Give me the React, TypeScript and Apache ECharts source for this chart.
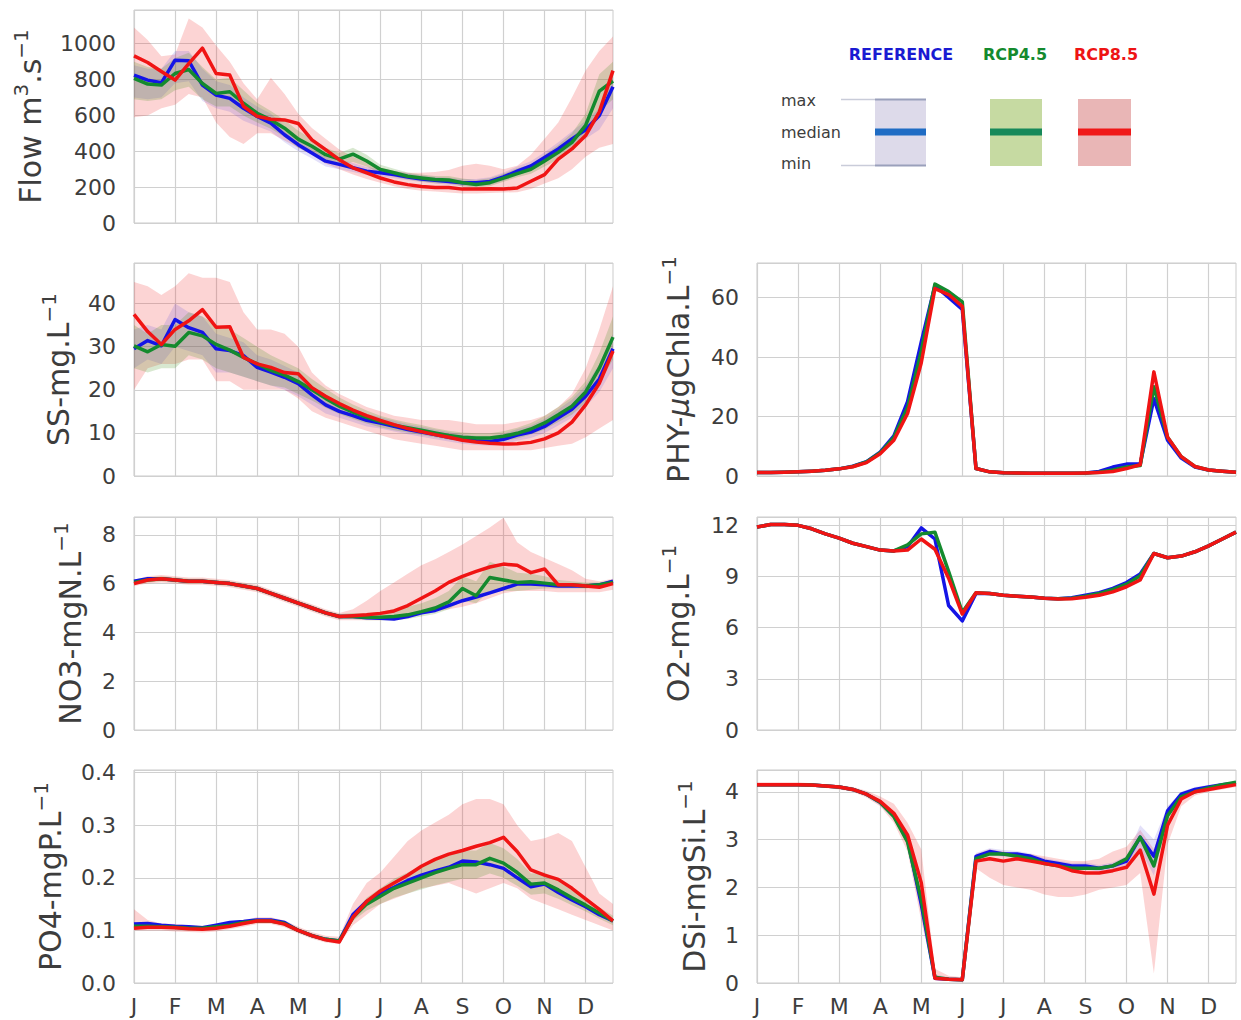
import React, { useEffect, useRef } from 'react';
import * as echarts from 'echarts';

// ---------- axis categories (3 dekads per month) ----------
const months = ['J', 'F', 'M', 'A', 'M', 'J', 'J', 'A', 'S', 'O', 'N', 'D'];
const dekads: string[] = [];
months.forEach((m, i) => [1, 2, 3].forEach((d) => dekads.push(`${m}|${i}|${d}`)));

// ---------- Flow m3/s ----------
const flowRef = [824, 797, 782, 908, 905, 769, 713, 695, 640, 594, 557, 492, 437, 391, 345, 327, 308, 289, 280, 270, 257, 246, 238, 232, 225, 224, 232, 257, 289, 318, 365, 413, 469, 520, 600, 760];
const flowR45 = [806, 775, 769, 834, 856, 778, 723, 732, 668, 612, 575, 529, 468, 428, 381, 356, 384, 346, 299, 280, 261, 251, 242, 240, 225, 215, 225, 250, 275, 300, 346, 394, 450, 545, 735, 792];
const flowR85 = [932, 895, 845, 797, 889, 975, 834, 825, 651, 595, 579, 575, 555, 464, 409, 353, 308, 280, 251, 229, 214, 204, 198, 198, 189, 189, 191, 189, 195, 233, 270, 356, 413, 488, 620, 850];
const flowRefLo = [700, 690, 700, 780, 790, 680, 640, 620, 570, 540, 510, 450, 400, 360, 315, 300, 285, 268, 260, 250, 238, 228, 220, 214, 205, 205, 212, 235, 265, 292, 335, 380, 430, 470, 520, 640];
const flowRefHi = [880, 860, 860, 960, 960, 860, 790, 770, 700, 650, 610, 540, 480, 425, 380, 355, 335, 312, 300, 290, 278, 266, 258, 252, 245, 245, 255, 282, 315, 345, 395, 450, 510, 570, 640, 860];
const flowR45Lo = [690, 680, 690, 740, 760, 690, 650, 650, 600, 560, 525, 480, 420, 385, 345, 325, 340, 315, 275, 258, 242, 232, 222, 220, 205, 198, 205, 230, 255, 275, 315, 355, 405, 480, 620, 690];
const flowR45Hi = [900, 870, 860, 920, 950, 870, 800, 810, 740, 670, 625, 575, 515, 470, 420, 390, 420, 380, 325, 302, 282, 270, 262, 262, 248, 240, 250, 275, 305, 325, 380, 435, 500, 610, 830, 900];
const flowR85Lo = [590, 600, 640, 660, 720, 700, 560, 480, 440, 500, 500, 460, 420, 380, 330, 300, 270, 245, 225, 205, 190, 180, 175, 170, 165, 165, 168, 170, 172, 190, 220, 250, 300, 370, 420, 440];
const flowR85Hi = [1090, 1020, 930, 940, 1140, 1090, 990, 900, 780, 690, 810, 720, 610, 530, 470, 410, 370, 340, 310, 290, 280, 280, 285, 295, 320, 330, 320, 300, 320, 380, 470, 560, 700, 850, 960, 1040];

// ---------- SS mg/L ----------
const ssRef = [29.5, 31.4, 30.2, 36.3, 34.4, 33.3, 29.5, 29.1, 27.9, 25.2, 24.1, 22.9, 21.4, 18.8, 16.5, 15.0, 14.0, 12.9, 12.3, 11.5, 10.8, 10.2, 9.6, 9.0, 8.5, 8.2, 8.0, 8.5, 9.5, 10.2, 11.5, 13.5, 15.5, 18.5, 22.5, 29.5];
const ssR45 = [30.2, 28.8, 30.5, 30.1, 33.3, 32.5, 30.5, 29.2, 27.5, 26.0, 24.5, 23.4, 21.9, 20.0, 18.0, 16.2, 14.8, 13.6, 12.6, 11.8, 11.2, 10.6, 10.0, 9.4, 9.0, 8.8, 8.8, 9.2, 9.9, 10.9, 12.3, 14.2, 16.2, 19.5, 25.0, 32.2];
const ssR85 = [37.5, 33.5, 30.5, 34.0, 36.0, 38.6, 34.5, 34.6, 27.5, 26.0, 25.2, 24.0, 23.7, 20.5, 18.5, 16.8, 15.3, 14.0, 12.9, 11.9, 11.0, 10.3, 9.6, 9.0, 8.3, 7.9, 7.6, 7.4, 7.5, 7.8, 8.6, 10.0, 12.5, 16.5, 21.5, 29.0];
const ssRefLo = [25, 27, 26, 30, 29, 28, 24, 24, 23, 22, 21, 20, 18.5, 16.5, 14.5, 13.5, 12.5, 11.5, 11, 10.3, 9.7, 9.1, 8.5, 8, 7.5, 7.2, 7, 7.3, 8.2, 8.8, 10, 11.7, 13.5, 16, 19.5, 25];
const ssRefHi = [34, 35, 34, 40, 38, 37, 33, 32, 31, 28, 27, 25.5, 24, 21, 18.5, 16.8, 15.6, 14.4, 13.6, 12.8, 12, 11.4, 10.8, 10.2, 9.6, 9.3, 9.2, 9.8, 10.9, 11.7, 13.2, 15.4, 17.7, 21, 26, 33];
const ssR45Lo = [25, 24, 25, 25, 28, 27, 25, 24, 23, 22, 21, 20.5, 19, 17.5, 15.8, 14.4, 13.2, 12.2, 11.3, 10.6, 10.1, 9.5, 9, 8.4, 8, 7.8, 7.8, 8.1, 8.7, 9.6, 10.8, 12.5, 14.2, 17, 21.5, 27];
const ssR45Hi = [35, 33, 35, 35, 38, 37, 35, 34, 32, 30, 28, 26.5, 25, 22.5, 20.3, 18.2, 16.6, 15.2, 14, 13.1, 12.4, 11.8, 11.1, 10.5, 10.1, 9.9, 9.9, 10.4, 11.2, 12.3, 13.9, 16, 18.3, 22, 28.5, 37];
const ssR85Lo = [20, 25, 26, 26, 27, 27, 22, 22, 20, 20, 20, 20, 18, 15, 13.5, 12.5, 11.5, 10.5, 9.5, 8.5, 8, 7.5, 7, 6.5, 6, 6, 6, 6, 6, 6, 6.5, 7, 7.5, 9, 11, 13];
const ssR85Hi = [45, 44, 42, 44, 47, 46, 46, 45, 38, 34, 34, 33, 30, 24, 21, 19, 17.5, 16, 15, 14, 13.5, 13, 13, 13, 12.5, 12, 12, 12, 12.5, 13, 14, 16, 19, 25, 34, 44];

// ---------- NO3 mgN/L ----------
const no3Ref = [6.1, 6.2, 6.2, 6.15, 6.1, 6.1, 6.05, 6.0, 5.9, 5.8, 5.6, 5.4, 5.2, 5.0, 4.8, 4.65, 4.65, 4.6, 4.58, 4.55, 4.65, 4.8, 4.9, 5.1, 5.3, 5.45, 5.62, 5.8, 5.98, 5.98, 5.95, 5.9, 5.9, 5.9, 5.95, 6.1];
const no3R45 = [6.05, 6.15, 6.2, 6.15, 6.1, 6.1, 6.05, 6.0, 5.9, 5.8, 5.6, 5.4, 5.2, 5.0, 4.8, 4.65, 4.65, 4.62, 4.62, 4.65, 4.72, 4.85, 5.0, 5.25, 5.8, 5.5, 6.25, 6.15, 6.05, 6.08, 6.02, 5.95, 5.95, 5.9, 5.95, 6.05];
const no3R85 = [6.0, 6.15, 6.2, 6.15, 6.1, 6.1, 6.05, 6.0, 5.9, 5.8, 5.6, 5.4, 5.2, 5.0, 4.8, 4.65, 4.68, 4.72, 4.78, 4.88, 5.1, 5.4, 5.7, 6.05, 6.3, 6.5, 6.68, 6.8, 6.75, 6.45, 6.6, 5.95, 5.95, 5.9, 5.85, 6.0];
const no3R45Lo = [5.95, 6.05, 6.1, 6.05, 6.0, 6.0, 5.95, 5.9, 5.8, 5.7, 5.5, 5.3, 5.1, 4.9, 4.7, 4.55, 4.55, 4.5, 4.5, 4.5, 4.55, 4.65, 4.75, 4.95, 5.3, 5.2, 5.7, 5.7, 5.7, 5.75, 5.8, 5.8, 5.8, 5.8, 5.85, 5.95];
const no3R45Hi = [6.15, 6.25, 6.3, 6.25, 6.2, 6.2, 6.15, 6.1, 6.0, 5.9, 5.7, 5.5, 5.3, 5.1, 4.9, 4.75, 4.8, 4.8, 4.85, 4.95, 5.05, 5.2, 5.4, 5.7, 6.3, 6.1, 6.9, 6.7, 6.45, 6.4, 6.3, 6.15, 6.1, 6.05, 6.05, 6.15];
const no3R85Lo = [5.9, 6.0, 6.05, 6.0, 5.95, 5.95, 5.9, 5.85, 5.75, 5.65, 5.45, 5.25, 5.05, 4.85, 4.65, 4.5, 4.5, 4.5, 4.5, 4.55, 4.65, 4.75, 4.85, 4.95, 5.05, 5.2, 5.4, 5.6, 5.7, 5.7, 5.7, 5.65, 5.65, 5.65, 5.65, 5.75];
const no3R85Hi = [6.15, 6.3, 6.35, 6.3, 6.25, 6.25, 6.2, 6.15, 6.05, 5.95, 5.75, 5.55, 5.35, 5.15, 4.95, 4.8, 4.95, 5.3, 5.7, 6.05, 6.4, 6.75, 7.0, 7.3, 7.6, 7.95, 8.3, 8.7, 7.7, 7.3, 7.05, 6.8, 6.55, 6.2, 6.1, 6.2];

// ---------- PO4 mgP/L ----------
const po4Ref = [0.112, 0.113, 0.110, 0.108, 0.107, 0.105, 0.110, 0.115, 0.117, 0.120, 0.120, 0.115, 0.100, 0.090, 0.083, 0.080, 0.130, 0.155, 0.170, 0.182, 0.195, 0.205, 0.213, 0.220, 0.232, 0.230, 0.225, 0.218, 0.200, 0.183, 0.188, 0.172, 0.158, 0.145, 0.130, 0.118];
const po4R45 = [0.108, 0.108, 0.107, 0.106, 0.104, 0.104, 0.107, 0.110, 0.115, 0.118, 0.118, 0.113, 0.100, 0.090, 0.083, 0.080, 0.125, 0.150, 0.165, 0.180, 0.190, 0.200, 0.210, 0.218, 0.225, 0.225, 0.237, 0.228, 0.210, 0.188, 0.190, 0.177, 0.162, 0.148, 0.133, 0.118];
const po4R85 = [0.104, 0.106, 0.106, 0.105, 0.103, 0.102, 0.104, 0.108, 0.113, 0.118, 0.118, 0.112, 0.100, 0.090, 0.082, 0.078, 0.125, 0.155, 0.175, 0.190, 0.205, 0.222, 0.235, 0.245, 0.252, 0.260, 0.267, 0.277, 0.250, 0.215, 0.205, 0.197, 0.180, 0.160, 0.140, 0.118];
const po4R45Lo = [0.104, 0.104, 0.103, 0.102, 0.100, 0.100, 0.103, 0.106, 0.111, 0.114, 0.114, 0.109, 0.096, 0.086, 0.079, 0.076, 0.118, 0.138, 0.150, 0.162, 0.170, 0.178, 0.186, 0.192, 0.198, 0.198, 0.208, 0.200, 0.185, 0.168, 0.170, 0.160, 0.148, 0.136, 0.122, 0.110];
const po4R45Hi = [0.112, 0.112, 0.111, 0.110, 0.108, 0.108, 0.111, 0.114, 0.119, 0.122, 0.122, 0.117, 0.104, 0.094, 0.087, 0.084, 0.132, 0.162, 0.180, 0.198, 0.210, 0.222, 0.234, 0.244, 0.252, 0.252, 0.266, 0.256, 0.236, 0.208, 0.210, 0.194, 0.176, 0.160, 0.144, 0.128];
const po4R85Lo = [0.100, 0.100, 0.100, 0.098, 0.097, 0.096, 0.098, 0.102, 0.107, 0.112, 0.112, 0.106, 0.094, 0.084, 0.077, 0.074, 0.110, 0.130, 0.150, 0.160, 0.170, 0.180, 0.185, 0.190, 0.180, 0.170, 0.180, 0.190, 0.180, 0.160, 0.150, 0.140, 0.130, 0.120, 0.110, 0.100];
const po4R85Hi = [0.140, 0.120, 0.113, 0.112, 0.110, 0.109, 0.111, 0.115, 0.120, 0.125, 0.125, 0.119, 0.107, 0.097, 0.090, 0.088, 0.150, 0.190, 0.210, 0.240, 0.270, 0.290, 0.305, 0.320, 0.340, 0.350, 0.350, 0.340, 0.300, 0.270, 0.275, 0.285, 0.270, 0.220, 0.170, 0.150];

// ---------- PHY µgChla/L ----------
const phyRef = [1.2, 1.2, 1.3, 1.4, 1.6, 1.9, 2.4, 3.3, 4.8, 8.0, 13.5, 25.0, 45.0, 64.0, 60.0, 56.0, 2.5, 1.4, 1.1, 1.0, 0.9, 0.9, 0.9, 0.9, 1.0, 1.5, 3.0, 4.0, 4.0, 26.0, 12.0, 6.0, 3.0, 2.0, 1.6, 1.3];
const phyR45 = [1.2, 1.2, 1.3, 1.4, 1.6, 1.9, 2.4, 3.2, 4.7, 7.8, 13.0, 23.0, 42.0, 64.5, 62.0, 58.5, 2.5, 1.4, 1.1, 1.0, 0.9, 0.9, 0.9, 0.9, 1.0, 1.3, 2.0, 3.0, 3.5, 30.0, 13.0, 6.5, 3.2, 2.0, 1.6, 1.3];
const phyR85 = [1.2, 1.2, 1.3, 1.4, 1.6, 1.9, 2.4, 3.1, 4.5, 7.5, 12.0, 21.0, 38.0, 63.0, 61.0, 57.0, 2.5, 1.4, 1.1, 1.0, 0.9, 0.9, 0.9, 0.9, 1.0, 1.2, 1.5, 2.5, 3.8, 35.0, 13.0, 6.5, 3.2, 2.0, 1.6, 1.3];

// ---------- O2 mg/L ----------
const o2Ref = [11.9, 12.05, 12.05, 12.0, 11.8, 11.5, 11.25, 10.95, 10.75, 10.55, 10.5, 10.75, 11.85, 11.2, 7.3, 6.4, 8.0, 8.0, 7.9, 7.85, 7.8, 7.72, 7.7, 7.75, 7.9, 8.05, 8.3, 8.65, 9.15, 10.35, 10.1, 10.2, 10.45, 10.8, 11.2, 11.6];
const o2R45 = [11.9, 12.05, 12.05, 12.0, 11.8, 11.5, 11.25, 10.95, 10.75, 10.55, 10.5, 10.85, 11.5, 11.6, 9.3, 6.9, 8.05, 8.0, 7.9, 7.85, 7.8, 7.72, 7.7, 7.72, 7.85, 8.0, 8.25, 8.55, 9.05, 10.35, 10.1, 10.2, 10.45, 10.8, 11.2, 11.6];
const o2R85 = [11.9, 12.05, 12.05, 12.0, 11.8, 11.5, 11.25, 10.95, 10.75, 10.55, 10.5, 10.55, 11.2, 10.6, 8.9, 6.8, 8.05, 8.0, 7.9, 7.85, 7.8, 7.72, 7.68, 7.7, 7.78, 7.9, 8.1, 8.4, 8.8, 10.35, 10.1, 10.2, 10.45, 10.8, 11.2, 11.6];

// ---------- DSi mgSi/L ----------
const dsiRef = [4.15, 4.15, 4.15, 4.15, 4.14, 4.12, 4.1, 4.05, 3.95, 3.78, 3.5, 3.0, 1.65, 0.1, 0.08, 0.07, 2.65, 2.75, 2.7, 2.7, 2.65, 2.55, 2.5, 2.45, 2.45, 2.4, 2.45, 2.55, 3.05, 2.65, 3.6, 3.95, 4.05, 4.1, 4.15, 4.18];
const dsiR45 = [4.15, 4.15, 4.15, 4.15, 4.14, 4.12, 4.1, 4.05, 3.95, 3.78, 3.48, 2.95, 1.75, 0.12, 0.08, 0.07, 2.6, 2.7, 2.7, 2.65, 2.6, 2.5, 2.45, 2.4, 2.4, 2.4, 2.45, 2.6, 3.05, 2.45, 3.5, 3.9, 4.0, 4.08, 4.15, 4.2];
const dsiR85 = [4.15, 4.15, 4.15, 4.15, 4.14, 4.12, 4.1, 4.05, 3.95, 3.8, 3.55, 3.1, 2.1, 0.1, 0.08, 0.07, 2.55, 2.6, 2.55, 2.6, 2.55, 2.5, 2.45, 2.35, 2.3, 2.3, 2.35, 2.42, 2.78, 1.86, 3.3, 3.85, 4.0, 4.05, 4.1, 4.15];
const dsiRefLo = [4.12, 4.12, 4.12, 4.12, 4.11, 4.09, 4.07, 4.01, 3.9, 3.72, 3.42, 2.9, 1.5, 0.06, 0.05, 0.05, 2.58, 2.68, 2.64, 2.64, 2.59, 2.49, 2.44, 2.39, 2.38, 2.33, 2.38, 2.45, 2.8, 2.25, 3.45, 3.88, 4.0, 4.06, 4.11, 4.15];
const dsiRefHi = [4.18, 4.18, 4.18, 4.18, 4.17, 4.15, 4.13, 4.09, 4.0, 3.84, 3.58, 3.1, 1.9, 0.18, 0.12, 0.1, 2.72, 2.82, 2.78, 2.76, 2.71, 2.61, 2.56, 2.51, 2.52, 2.47, 2.52, 2.65, 3.3, 3.0, 3.7, 4.0, 4.1, 4.14, 4.19, 4.21];
const dsiR85Lo = [4.12, 4.12, 4.12, 4.12, 4.1, 4.08, 4.05, 4.0, 3.88, 3.7, 3.35, 2.75, 1.3, 0.05, 0.04, 0.04, 2.4, 2.2, 2.05, 2.0, 1.95, 1.85, 1.8, 1.8, 1.85, 1.95, 2.0, 2.05, 2.3, 0.2, 2.9, 3.7, 3.92, 4.0, 4.05, 4.1];
const dsiR85Hi = [4.2, 4.2, 4.2, 4.2, 4.18, 4.16, 4.14, 4.1, 4.02, 3.9, 3.75, 3.35, 2.8, 0.3, 0.15, 0.12, 2.7, 2.8, 2.75, 2.7, 2.7, 2.65, 2.6, 2.55, 2.55, 2.6, 2.75, 2.85, 3.2, 2.8, 3.6, 3.95, 4.08, 4.12, 4.17, 4.22];

// ---------- legend texts ----------
const scenarioNames = ['REFERENCE', 'RCP4.5', 'RCP8.5'];
const statNames = ['max', 'median', 'min'];

// ---------- styling ----------
const FONT = 'DejaVu Sans';
const TXT = '#3d3d3d';
const GRIDC = '#d0d0d0';
const LINE = { ref: '#1414e6', r45: '#148a2e', r85: '#f01414' } as const;
const FILL = { ref: 'rgba(80,60,220,0.16)', r45: 'rgba(60,140,20,0.2)', r85: 'rgba(240,40,40,0.2)' } as const;
type Kind = 'ref' | 'r45' | 'r85';

interface Band { lo: number[]; hi: number[]; kind: Kind }
interface Panel {
  name: string; col: number; row: number; max: number; interval: number; dec: number; nameGap: number;
  ref: number[]; r45: number[]; r85: number[]; bands: Band[];
}

const panels: Panel[] = [
  { name: '{t|Flow m}{s|3}{t|.s}{s|−1}', col: 0, row: 0, max: 1188, interval: 200, dec: 0, nameGap: 85,
    ref: flowRef, r45: flowR45, r85: flowR85,
    bands: [{ lo: flowR85Lo, hi: flowR85Hi, kind: 'r85' }, { lo: flowRefLo, hi: flowRefHi, kind: 'ref' }, { lo: flowR45Lo, hi: flowR45Hi, kind: 'r45' }] },
  { name: '{t|SS-mg.L}{s|−1}', col: 0, row: 1, max: 49.4, interval: 10, dec: 0, nameGap: 57,
    ref: ssRef, r45: ssR45, r85: ssR85,
    bands: [{ lo: ssR85Lo, hi: ssR85Hi, kind: 'r85' }, { lo: ssRefLo, hi: ssRefHi, kind: 'ref' }, { lo: ssR45Lo, hi: ssR45Hi, kind: 'r45' }] },
  { name: '{t|NO3-mgN.L}{s|−1}', col: 0, row: 2, max: 8.73, interval: 2, dec: 0, nameGap: 45,
    ref: no3Ref, r45: no3R45, r85: no3R85,
    bands: [{ lo: no3R85Lo, hi: no3R85Hi, kind: 'r85' }, { lo: no3R45Lo, hi: no3R45Hi, kind: 'r45' }] },
  { name: '{t|PO4-mgP.L}{s|−1}', col: 0, row: 3, max: 0.405, interval: 0.1, dec: 1, nameGap: 65,
    ref: po4Ref, r45: po4R45, r85: po4R85,
    bands: [{ lo: po4R85Lo, hi: po4R85Hi, kind: 'r85' }, { lo: po4R45Lo, hi: po4R45Hi, kind: 'r45' }] },
  { name: '{t|PHY-}{i|μ}{t|gChla.L}{s|−1}', col: 1, row: 1, max: 71.6, interval: 20, dec: 0, nameGap: 60,
    ref: phyRef, r45: phyR45, r85: phyR85, bands: [] },
  { name: '{t|O2-mg.L}{s|−1}', col: 1, row: 2, max: 12.49, interval: 3, dec: 0, nameGap: 60,
    ref: o2Ref, r45: o2R45, r85: o2R85, bands: [] },
  { name: '{t|DSi-mgSi.L}{s|−1}', col: 1, row: 3, max: 4.456, interval: 1, dec: 0, nameGap: 44,
    ref: dsiRef, r45: dsiR45, r85: dsiR85,
    bands: [{ lo: dsiR85Lo, hi: dsiR85Hi, kind: 'r85' }, { lo: dsiRefLo, hi: dsiRefHi, kind: 'ref' }] },
];

const COL_LEFT = [134, 757];
const ROW_TOP = [10, 263, 517, 770];
const PW = 479;
const PH = 213;

function buildOption() {
  const grid: any[] = [];
  const xAxis: any[] = [];
  const yAxis: any[] = [];
  const series: any[] = [];

  panels.forEach((p, i) => {
    grid.push({
      left: COL_LEFT[p.col], top: ROW_TOP[p.row], width: PW, height: PH,
      show: true, borderColor: '#cbcbcb', borderWidth: 1, backgroundColor: '#ffffff',
    });
    xAxis.push({
      type: 'category', gridIndex: i, data: dekads, boundaryGap: false,
      axisLine: { show: false }, axisTick: { show: false },
      splitLine: { show: true, interval: 2, lineStyle: { color: GRIDC, width: 1.2 } },
      axisLabel: {
        show: p.row === 3, interval: 2, margin: 12,
        fontSize: 22, fontFamily: FONT, color: TXT,
        formatter: (v: string) => v.split('|')[0],
      },
    });
    yAxis.push({
      type: 'value', gridIndex: i, min: 0, max: p.max, interval: p.interval,
      axisLine: { show: false }, axisTick: { show: false },
      splitLine: { show: true, lineStyle: { color: GRIDC, width: 1.2 } },
      axisLabel: {
        margin: 18, fontSize: 22, fontFamily: FONT, color: TXT, showMaxLabel: false,
        formatter: (v: number) => v.toFixed(p.dec),
      },
      name: p.name, nameLocation: 'middle', nameGap: p.nameGap,
      nameTextStyle: {
        fontFamily: FONT, fontSize: 30, color: TXT,
        rich: {
          t: { fontFamily: FONT, fontSize: 30, lineHeight: 38, color: TXT },
          i: { fontFamily: FONT, fontSize: 30, lineHeight: 38, color: TXT, fontStyle: 'italic' },
          s: { fontFamily: FONT, fontSize: 20, lineHeight: 19, color: TXT, verticalAlign: 'top' },
        },
      },
    });

    p.bands.forEach((b, j) => {
      const stack = `band-${i}-${j}`;
      series.push({
        type: 'line', xAxisIndex: i, yAxisIndex: i, stack, data: b.lo,
        symbol: 'none', lineStyle: { opacity: 0, width: 0 }, silent: true, z: 1,
      });
      series.push({
        type: 'line', xAxisIndex: i, yAxisIndex: i, stack,
        data: b.hi.map((h, k) => +(h - b.lo[k]).toFixed(5)),
        symbol: 'none', lineStyle: { opacity: 0, width: 0 },
        areaStyle: { color: FILL[b.kind], opacity: 1 }, silent: true, z: 1,
      });
    });

    (['ref', 'r45', 'r85'] as Kind[]).forEach((k) => {
      series.push({
        type: 'line', xAxisIndex: i, yAxisIndex: i, data: p[k],
        symbol: 'none', z: 3,
        lineStyle: { color: LINE[k], width: 3.5, join: 'round' },
      });
    });
  });

  // ---------- legend drawn as graphic ----------
  const headX = [901, 1015, 1106];
  const headColors = ['#1a1ad2', '#148a2e', '#ee1414'];
  const patchX = [875, 990, 1078];
  const patchW = [51, 52, 53];
  const patchFill = ['#dddaea', '#c6daa2', '#e9b6b6'];
  const medColor = ['#1f6cc4', '#17895a', '#f01818'];
  const statY = [100, 132, 163];
  const graphic: any[] = [];
  scenarioNames.forEach((s, i) => {
    graphic.push({
      type: 'text', x: headX[i], y: 54,
      style: {
        text: s, fill: headColors[i], fontSize: 16, fontWeight: 'bold', fontFamily: FONT,
        align: 'center', verticalAlign: 'middle', textAlign: 'center', textVerticalAlign: 'middle',
      },
    });
    graphic.push({
      type: 'rect', shape: { x: patchX[i], y: 99, width: patchW[i], height: 67 },
      style: { fill: patchFill[i] },
    });
    graphic.push({
      type: 'line', shape: { x1: patchX[i], y1: 132, x2: patchX[i] + patchW[i], y2: 132 },
      style: { stroke: medColor[i], lineWidth: 7 },
    });
  });
  statNames.forEach((s, i) => {
    graphic.push({
      type: 'text', x: 781, y: statY[i],
      style: {
        text: s, fill: TXT, fontSize: 16, fontFamily: FONT,
        align: 'left', verticalAlign: 'middle', textAlign: 'left', textVerticalAlign: 'middle',
      },
    });
  });
  [99.5, 165.5].forEach((y) => {
    graphic.push({ type: 'line', shape: { x1: 841, y1: y, x2: 875, y2: y }, style: { stroke: '#c9ccd9', lineWidth: 1.5 } });
    graphic.push({ type: 'line', shape: { x1: 875, y1: y, x2: 926, y2: y }, style: { stroke: '#9aa0bb', lineWidth: 2 } });
  });

  return {
    animation: false,
    backgroundColor: '#ffffff',
    textStyle: { fontFamily: FONT },
    grid, xAxis, yAxis, series, graphic,
  };
}

export default function App() {
  const ref = useRef<HTMLDivElement>(null);
  useEffect(() => {
    document.body.style.margin = '0';
    if (!ref.current) return;
    const chart = echarts.init(ref.current, undefined, { renderer: 'svg' });
    chart.setOption(buildOption() as any);
    return () => chart.dispose();
  }, []);
  return <div ref={ref} style={{ width: 1241, height: 1020, background: '#fff' }} />;
}
